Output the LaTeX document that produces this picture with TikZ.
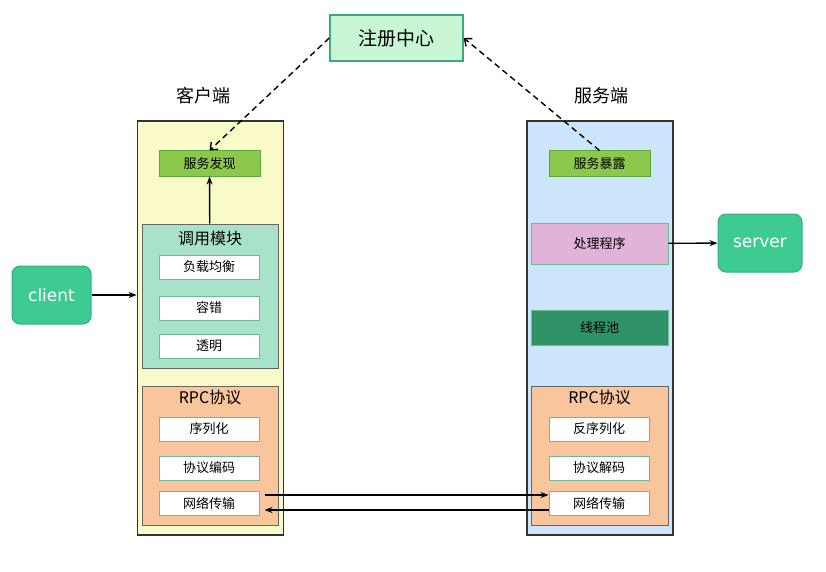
\documentclass[tikz,border=0pt]{standalone}
\usepackage{fontspec}
\setmainfont{Noto Sans CJK SC}
\newfontfamily\latinsans{DejaVu Sans}
\usetikzlibrary{arrows.meta,positioning,calc}

\definecolor{regfill}{HTML}{C8F5D3}
\definecolor{regline}{HTML}{3AAA7A}
\definecolor{clifill}{HTML}{FAFAC8}
\definecolor{srvfill}{HTML}{CCE5FA}
\definecolor{discfill}{HTML}{8CC84B}
\definecolor{discline}{HTML}{5AA83A}
\definecolor{callfill}{HTML}{A8E3C9}
\definecolor{rpcfill}{HTML}{F9C59D}
\definecolor{handfill}{HTML}{E2B3D9}
\definecolor{poolfill}{HTML}{2F9166}
\definecolor{endfill}{HTML}{3ECB92}
\definecolor{subline}{HTML}{6DBB96}

\begin{document}
\begin{tikzpicture}[x=1pt, y=-1pt,
  side/.style={draw=black!80, line width=1.8pt, minimum width=146pt, minimum height=414pt},
  layer/.style={draw=black!60, line width=1pt, minimum width=136pt},
  sub/.style={draw=subline, fill=white, line width=1pt, minimum width=100pt, minimum height=24pt, font=\fontsize{13}{14}\selectfont},
  reg/.style={draw=discline, line width=1pt, fill=discfill, minimum width=101pt, minimum height=25pt, font=\fontsize{13}{14}\selectfont},
  ends/.style={draw=endfill!85!black, line width=1pt, fill=endfill, rounded corners=8pt, text=white, font=\latinsans\fontsize{17}{19}\selectfont},
  ttl/.style={font=\fontsize{16}{18}\selectfont},
  flow/.style={-{Stealth[length=8pt,width=6pt]}, line width=1.4pt},
  dashflow/.style={dash pattern=on 6pt off 4pt, line width=1.4pt, -{Straight Barb[length=6pt,width=10pt]}}]
\useasboundingbox (0,0) rectangle (826,572);

% registry
\node[draw=regline, line width=1.5pt, fill=regfill, minimum width=133pt, minimum height=46pt, font=\fontsize{19}{21}\selectfont] (center) at (396.5,38) {注册中心};

% client side
\node[side, fill=clifill] (cli) at (210.5,328) {};
\node[font=\fontsize{18}{20}\selectfont] (clilab) at (203,96) {客户端};
\node[reg] (find) at (209.5,163.5) {服务发现};
\node[layer, fill=callfill, minimum height=144pt] (call) at (210,296) {};
\node[ttl] at (210,238) {调用模块};
\node[sub] (lb) at (209,267) {负载均衡};
\node[sub] (ft) at (209,308) {容错};
\node[sub] (tr) at (209,346) {透明};
\node[layer, fill=rpcfill, minimum height=139pt] (crpc) at (210,455.5) {};
\node[ttl] at (210,397) {RPC协议};
\node[sub] (ser) at (209,429) {序列化};
\node[sub] (enc) at (209,468) {协议编码};
\node[sub] (cnet) at (209,503) {网络传输};

% server side
\node[side, fill=srvfill] (srv) at (600,328) {};
\node[font=\fontsize{18}{20}\selectfont] (srvlab) at (601,96) {服务端};
\node[reg] (expo) at (599.5,163.5) {服务暴露};
\node[layer, draw=subline, fill=handfill, minimum width=137pt, minimum height=41pt, font=\fontsize{13}{15}\selectfont] (hand) at (599.5,243.5) {处理程序};
\node[layer, draw=subline, fill=poolfill, minimum width=137pt, minimum height=35pt, font=\fontsize{13}{15}\selectfont] (pool) at (599.5,327.5) {线程池};
\node[layer, fill=rpcfill, minimum width=137pt, minimum height=139pt] (srpc) at (599.5,455.5) {};
\node[ttl] at (599.5,397) {RPC协议};
\node[sub] (deser) at (599,429) {反序列化};
\node[sub] (dec) at (599,468) {协议解码};
\node[sub] (snet) at (599,503) {网络传输};

% endpoints
\node[ends, minimum width=79pt, minimum height=58pt] (client) at (51.5,295) {client};
\node[ends, minimum width=84pt, minimum height=58pt] (server) at (760,243) {server};

% connectors
\draw[flow] (client) -- (client -| cli.west);
\draw[flow] (call) -- (find);
\draw[flow] (hand) -- (server);
\draw[dashflow] (center.west) -- (find.north);
\draw[dashflow] (expo.north) -- (center.east);
\draw[flow, shorten <=5pt] ([yshift=8pt]cnet.east) -- ([yshift=8pt]snet.west);
\draw[flow, shorten >=5pt] ([yshift=-7pt]snet.west) -- ([yshift=-7pt]cnet.east);
\end{tikzpicture}
\end{document}
